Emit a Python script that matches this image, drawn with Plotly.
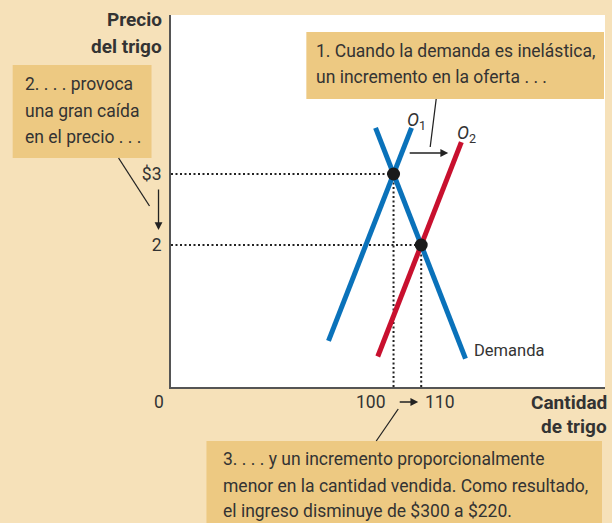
import plotly.graph_objects as go

# Datos del gráfico
cantidad_eq = [100, 110]
precio_eq = [3, 2]
demanda_q = [93.5, 126]
demanda_p = [3.65, 0.4]
oferta1_q = [76.5, 106.5]
oferta1_p = [0.65, 3.65]
oferta2_q = [94.3, 124.5]
oferta2_p = [0.43, 3.45]
precio_ticks = [3, 2]
precio_labels = ["$3", "2"]

FONDO = "#F6E1B9"
CAJA = "#EDC982"
TEXTO = "#333333"
AZUL = "#0A72BA"
ROJO = "#C8102E"
FUENTE = "Roboto"

XR = [19.6, 176.4]
YR = [0, 5.24]

# área del gráfico en píxeles (para colocar cajas y textos)
X0, X1, Y0, Y1 = 170.5, 605, 387, 15


def px(x):
    return (x - X0) / (X1 - X0)


def py(y):
    return (Y0 - y) / (Y0 - Y1)


fig = go.Figure()

# líneas punteadas
for q, p in zip(cantidad_eq, precio_eq):
    fig.add_trace(go.Scatter(x=[XR[0], q], y=[p, p], mode="lines",
                             line=dict(color="#222", width=2, dash="2px,2.5px")))
    fig.add_trace(go.Scatter(x=[q, q], y=[0, p], mode="lines",
                             line=dict(color="#222", width=2, dash="2px,2.5px")))

fig.add_trace(go.Scatter(x=oferta1_q, y=oferta1_p, mode="lines",
                         line=dict(color=AZUL, width=5)))
fig.add_trace(go.Scatter(x=oferta2_q, y=oferta2_p, mode="lines",
                         line=dict(color=ROJO, width=5)))
fig.add_trace(go.Scatter(x=demanda_q, y=demanda_p, mode="lines",
                         line=dict(color=AZUL, width=5)))
fig.add_trace(go.Scatter(x=cantidad_eq, y=precio_eq, mode="markers",
                         marker=dict(color="#1a1a1a", size=13)))

# cajas de texto
cajas = [(306, 32, 604, 99), (12, 65, 151, 158), (206, 441, 602, 523)]
for a, b, c, d in cajas:
    fig.add_shape(type="rect", xref="paper", yref="paper",
                  x0=px(a), x1=px(c), y0=py(d), y1=py(b),
                  fillcolor=CAJA, line=dict(width=0), layer="above")

# líneas guía
for a, b, c, d in [(436, 99, 430, 147), (118, 158, 149, 206), (376, 441, 398, 409)]:
    fig.add_shape(type="line", xref="paper", yref="paper",
                  x0=px(a), y0=py(b), x1=px(c), y1=py(d),
                  line=dict(color="#222", width=1.3), layer="above")


def texto(t, x, y, xa="left", size=17.5, bold=False):
    if bold:
        t = "<b>" + t + "</b>"
    fig.add_annotation(text=t, x=px(x), y=py(y), xref="paper", yref="paper",
                       xanchor=xa, yanchor="middle", showarrow=False,
                       font=dict(family=FUENTE, size=size, color=TEXTO))


texto("1. Cuando la demanda es inelástica,", 314, 51)
texto("un incremento en la oferta . . .", 314, 77)
texto("2. . . . provoca", 22, 84)
texto("una gran caída", 22, 111)
texto("en el precio . . .", 22, 137)
texto("3. . . . y un incremento proporcionalmente", 221, 459)
texto("menor en la cantidad vendida. Como resultado,", 221, 486)
texto("el ingreso disminuye de $300 a $220.", 221, 511)

texto("Precio", 163, 20, xa="right", size=19, bold=True)
texto("del trigo", 163, 46, xa="right", size=19, bold=True)
texto("Cantidad", 609, 402, xa="right", size=19, bold=True)
texto("de trigo", 609, 427, xa="right", size=19, bold=True)

texto("0", 158, 402, xa="center")
texto("100", 388, 402, xa="right")
texto("110", 423, 402, xa="left")
texto("Demanda", 472, 350, size=16.5)
texto("<i>O</i><sub>1</sub>", 405, 121, size=18)
texto("<i>O</i><sub>2</sub>", 455, 134, size=18)

# flechas
for hx, hy, dx, dy in [(158, 230, 0, -42), (448, 153, -40, 0), (418, 402, -20, 0)]:
    fig.add_annotation(x=px(hx), y=py(hy), xref="paper", yref="paper",
                       ax=dx, ay=dy, text="", showarrow=True,
                       arrowhead=2, arrowsize=1.2, arrowwidth=1.3, arrowcolor="#222")

fig.update_xaxes(range=XR, showline=True, linecolor="#555", linewidth=2,
                 showgrid=False, zeroline=False, showticklabels=False, ticks="")
fig.update_yaxes(range=YR, showline=True, linecolor="#555", linewidth=2,
                 showgrid=False, zeroline=False, ticks="",
                 tickvals=precio_ticks, ticktext=precio_labels,
                 ticklabelstandoff=4,
                 tickfont=dict(family=FUENTE, size=17.5, color=TEXTO))

fig.update_layout(
    width=612, height=523,
    margin=dict(l=170.5, r=7, t=15, b=136),
    paper_bgcolor=FONDO, plot_bgcolor="white",
    showlegend=False,
)

# sin margen en la página para que la figura ocupe toda la ventana
fig.write_html("out.html", config={"displayModeBar": False},
               post_script="document.body.style.margin='0';")
